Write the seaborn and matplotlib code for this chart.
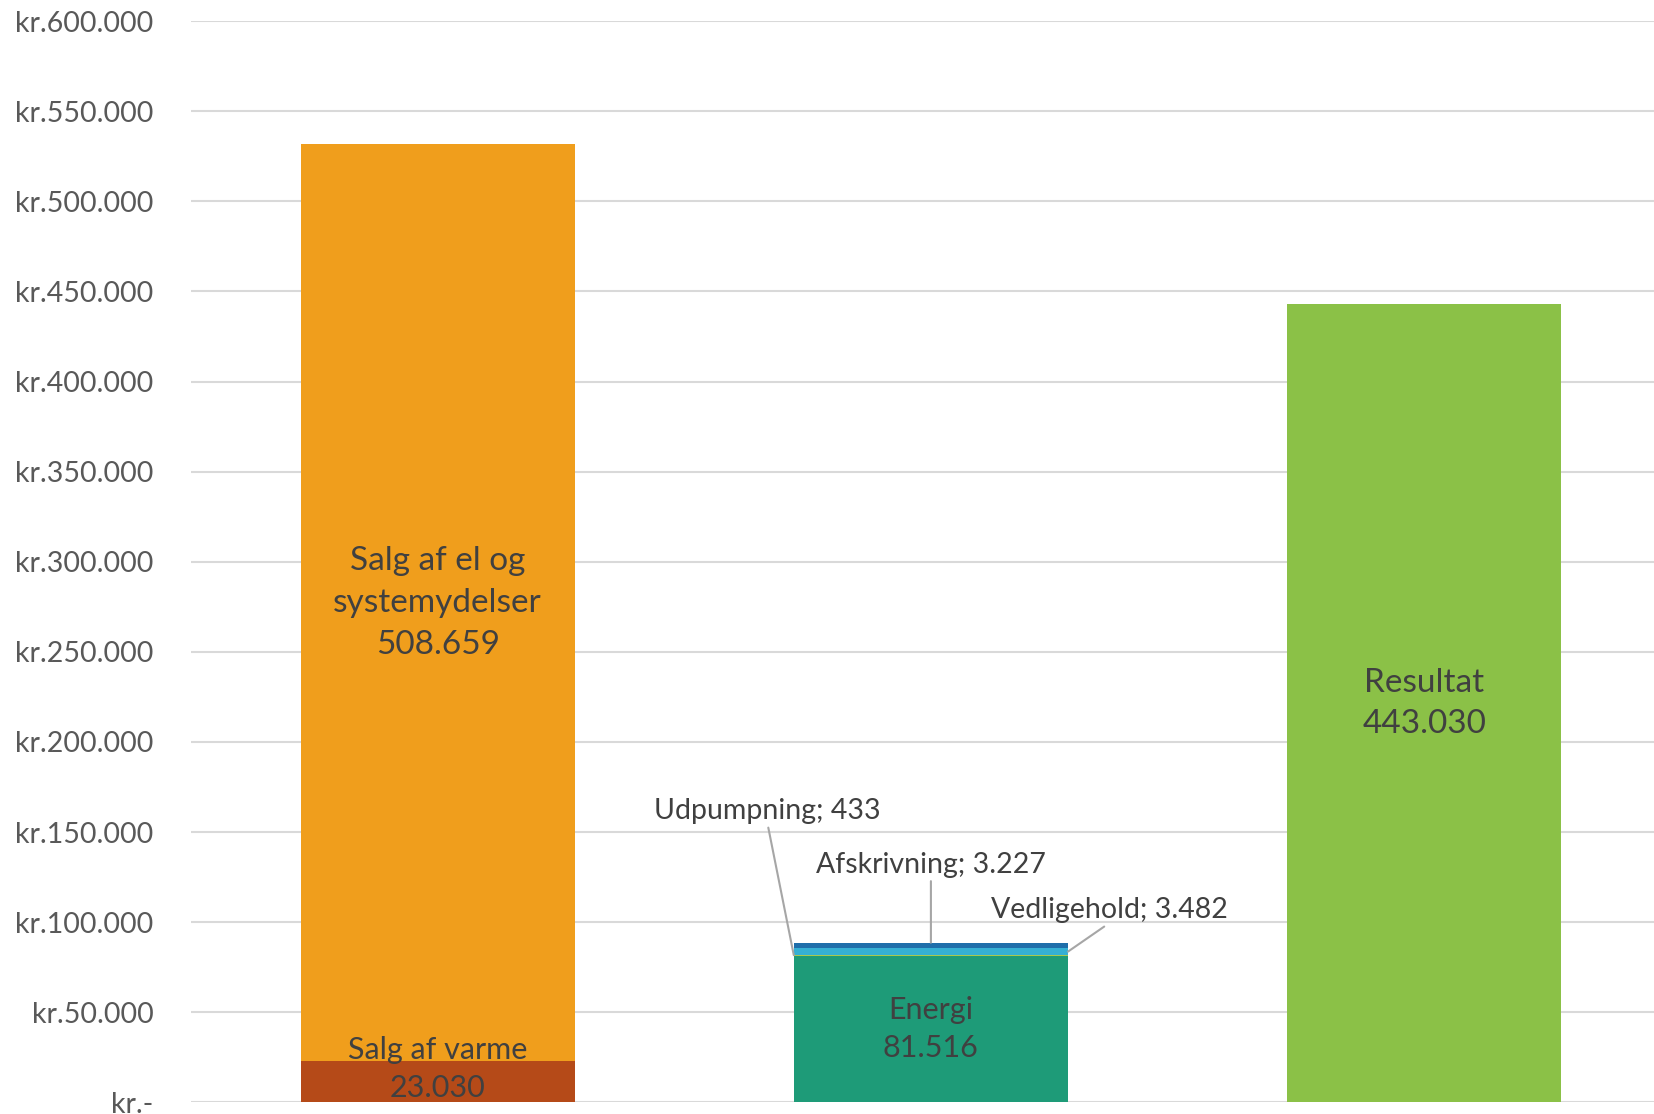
import matplotlib
matplotlib.use("Agg")
import matplotlib.pyplot as plt
import seaborn as sns
import pandas as pd
import numpy as np

# categories (x positions) and stacked segments
categories = ["Indtægter", "Omkostninger", "Resultat"]
segments = ["Salg af varme", "Salg af el og systemydelser", "Energi",
            "Udpumpning", "Vedligehold", "Afskrivning", "Resultat"]
segment_cat = [0, 0, 1, 1, 1, 1, 2]
segment_values = [23030, 508659, 81516, 433, 3482, 3227, 443030]
segment_colors = ["#B54A18", "#F09E1C", "#1E9B78", "#A9C84E",
                  "#35B0D4", "#1F6EAA", "#8BC147"]

y_ticks = np.arange(0, 600001, 50000)


def kr_fmt(v):
    if v == 0:
        return "kr.-"
    return "kr." + f"{int(v):,}".replace(",", ".")


def num_fmt(v):
    return f"{int(v):,}".replace(",", ".")


sns.set_theme(style="white")
plt.rcParams["font.family"] = ["Lato", "DejaVu Sans"]
text_col = "#404040"

fig = plt.figure(figsize=(16.54, 11.14), dpi=100)
ax = fig.add_axes([0.1155, 0.0104, 0.8845, 0.9707])

# stack the segments, one barplot call per segment
bottoms = np.zeros(len(categories))
seg_bottom = []
for name, ci, val, col in zip(segments, segment_cat, segment_values, segment_colors):
    heights = np.zeros(len(categories))
    heights[ci] = val
    df = pd.DataFrame({"cat": categories, "val": heights})
    sns.barplot(data=df, x="cat", y="val", order=categories, color=col,
                width=0.556, bottom=bottoms.copy(), errorbar=None,
                saturation=1, linewidth=0, ax=ax, zorder=3)
    seg_bottom.append(bottoms[ci])
    bottoms[ci] += val

ax.set_xlim(-0.5, 2.466)
ax.set_ylim(0, 600000)
ax.set_yticks(y_ticks)
ax.set_yticklabels([kr_fmt(v) for v in y_ticks])
ax.yaxis.grid(True, color="#d9d9d9", linewidth=1.5, zorder=0)
ax.set_axisbelow(True)
ax.tick_params(axis="y", length=0, pad=27, labelsize=20.5, labelcolor="#595959")
ax.set_xticks([])
ax.set_xlabel("")
ax.set_ylabel("")
for s in ax.spines.values():
    s.set_visible(False)

# labels inside the big segments
def seg_mid(i):
    return seg_bottom[i] + segment_values[i] / 2

ax.text(0, seg_mid(1), "Salg af el og\nsystemydelser\n" + num_fmt(segment_values[1]),
        ha="center", va="center", fontsize=24, color=text_col, linespacing=1.5, zorder=5)
ax.annotate("Salg af varme\n" + num_fmt(segment_values[0]), xy=(0, seg_mid(0)),
            xytext=(0, 9), textcoords="offset points", ha="center", va="center",
            fontsize=22, color=text_col, linespacing=1.45, zorder=5,
            annotation_clip=False)
ax.text(1, seg_mid(2), "Energi\n" + num_fmt(segment_values[2]),
        ha="center", va="center", fontsize=22, color=text_col, linespacing=1.45, zorder=5)
ax.text(2, seg_mid(6), "Resultat\n" + num_fmt(segment_values[6]),
        ha="center", va="center", fontsize=24, color=text_col, linespacing=1.45, zorder=5)

# small segments with leader lines
half = 0.556 / 2
line_kw = dict(arrowstyle="-", color="#a6a6a6", lw=1.5, shrinkA=0, shrinkB=0)
ax.annotate(f"{segments[3]}; {num_fmt(segment_values[3])}",
            xy=(1 - half, seg_mid(3)), xytext=(0.669, 161500),
            ha="center", va="center", fontsize=20.5, color=text_col,
            arrowprops=dict(line_kw, relpos=(0.5, 0)), zorder=5)
ax.annotate(f"{segments[5]}; {num_fmt(segment_values[5])}",
            xy=(1, bottoms[1]), xytext=(1.0, 131800),
            ha="center", va="center", fontsize=20.5, color=text_col,
            arrowprops=dict(line_kw, relpos=(0.5, 0)), zorder=5)
ax.annotate(f"{segments[4]}; {num_fmt(segment_values[4])}",
            xy=(1 + half, seg_mid(4)), xytext=(1.361, 106600),
            ha="center", va="center", fontsize=20.5, color=text_col,
            arrowprops=dict(line_kw, relpos=(0.5, 0)), zorder=5)

fig.savefig("out.png", dpi=100)
